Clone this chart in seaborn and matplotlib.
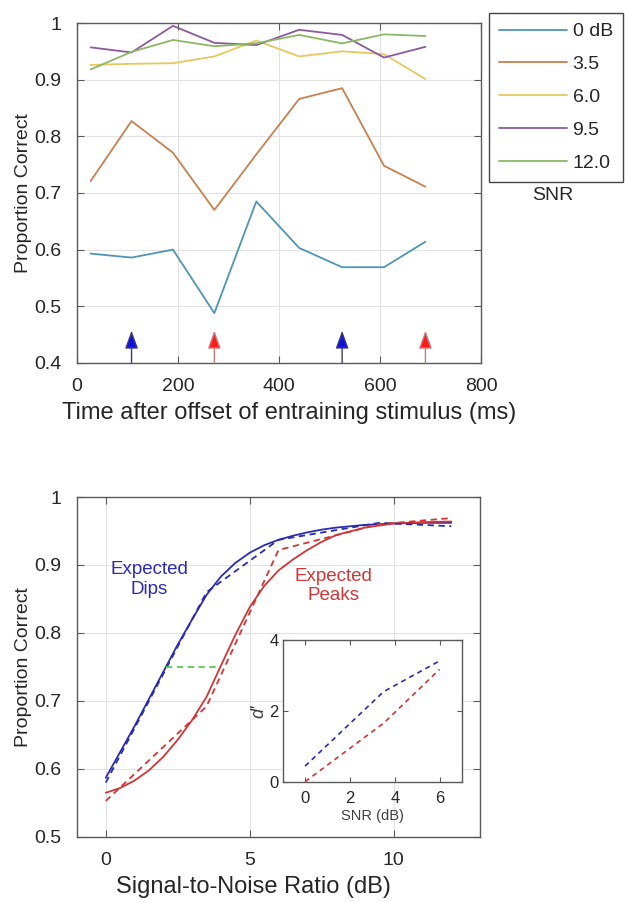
import pandas as pd
import matplotlib.pyplot as plt
import seaborn as sns

# --- data ---
times = [27, 108, 190, 272, 355, 440, 525, 608, 690]
pc_0 = [0.593, 0.586, 0.600, 0.488, 0.685, 0.603, 0.569, 0.569, 0.614]
pc_35 = [0.721, 0.827, 0.771, 0.670, 0.768, 0.866, 0.885, 0.748, 0.711]
pc_60 = [0.926, 0.928, 0.929, 0.941, 0.969, 0.941, 0.950, 0.945, 0.901]
pc_95 = [0.957, 0.948, 0.995, 0.965, 0.961, 0.988, 0.979, 0.939, 0.958]
pc_120 = [0.918, 0.949, 0.970, 0.959, 0.964, 0.979, 0.964, 0.980, 0.977]
snr_labels = ['0 dB', '3.5', '6.0', '9.5', '12.0']
snr_colors = ['#4d96b6', '#c8804f', '#e6c85e', '#8e5a9e', '#8cb864']

arrow_times = [108, 272, 525, 690]
arrow_heads = ['#1010e0', '#ff1a1a', '#1010e0', '#ff1a1a']
arrow_shafts = ['#3a3a78', '#c87878', '#3a3a78', '#c87878']

# psychometric fits (read at sample points)
fit_x = [0, 0.5, 1, 1.5, 2, 2.5, 3, 3.5, 4, 4.5, 5, 5.5, 6, 6.5, 7, 7.5, 8, 9, 10, 11, 12]
fit_dips = [0.587, 0.625, 0.663, 0.703, 0.743, 0.783, 0.820, 0.856, 0.883, 0.903, 0.918,
            0.929, 0.937, 0.943, 0.948, 0.952, 0.955, 0.959, 0.961, 0.962, 0.962]
fit_peaks = [0.565, 0.572, 0.583, 0.598, 0.618, 0.643, 0.672, 0.706, 0.752, 0.797, 0.838,
             0.869, 0.892, 0.908, 0.922, 0.934, 0.944, 0.955, 0.961, 0.963, 0.964]

# measured points
snr_points = [0, 3.5, 6, 9.5, 12]
data_dips = [0.580, 0.860, 0.937, 0.962, 0.957]
data_peaks = [0.553, 0.692, 0.922, 0.960, 0.969]

# threshold line at 0.75
thresh_x = [2.1, 3.9]
thresh_y = [0.75, 0.75]

# inset d'
inset_snr = [0, 3.5, 6]
dprime_dips = [0.44, 2.54, 3.41]
dprime_peaks = [0.0, 1.65, 3.17]

sns.set_theme(style='whitegrid')
plt.rcParams['font.family'] = ['Liberation Sans', 'DejaVu Sans']
plt.rcParams['axes.edgecolor'] = '#5a5a5a'
plt.rcParams['grid.color'] = '#e2e2e2'
plt.rcParams['grid.linewidth'] = 0.8

TXT = '#262626'
fig = plt.figure(figsize=(6.25, 9.02), dpi=100)


def style_axes(ax, size=14, xpad=11, ypad=11.5, tlen=5):
    for s in ax.spines.values():
        s.set_visible(True)
        s.set_color('#5a5a5a')
        s.set_linewidth(1.0)
    ax.tick_params(direction='in', length=tlen, width=0.8, color='#5a5a5a',
                   bottom=True, left=True, top=True, right=True,
                   labelsize=size, labelcolor=TXT)
    ax.tick_params(axis='x', pad=xpad)
    ax.tick_params(axis='y', pad=ypad)


# --- Top panel ---
ax1 = fig.add_axes([0.1232, 0.5976, 0.6464, 0.3769])
rows = []
for lab, vals in zip(snr_labels, [pc_0, pc_35, pc_60, pc_95, pc_120]):
    for t, v in zip(times, vals):
        rows.append({'time': t, 'pc': v, 'snr': lab})
df = pd.DataFrame(rows)
sns.lineplot(data=df, x='time', y='pc', hue='snr', hue_order=snr_labels,
             palette=dict(zip(snr_labels, snr_colors)), lw=1.3, ax=ax1, legend=False)

for t, hc, sc in zip(arrow_times, arrow_heads, arrow_shafts):
    ax1.annotate('', xy=(t, 0.457), xytext=(t, 0.4),
                 arrowprops=dict(arrowstyle='-|>,head_length=0.55,head_width=0.2',
                                 fc=hc, ec=sc, lw=1.0, shrinkA=0, shrinkB=0,
                                 mutation_scale=20))

ax1.set_xlim(0, 800)
ax1.set_ylim(0.4, 1.0)
ax1.set_xticks([0, 200, 400, 600, 800])
ax1.set_yticks([0.4, 0.5, 0.6, 0.7, 0.8, 0.9, 1.0])
ax1.set_yticklabels(['0.4', '0.5', '0.6', '0.7', '0.8', '0.9', '1'])
style_axes(ax1)
ax1.set_xlabel('Time after offset of entraining stimulus (ms)', fontsize=17, color=TXT, labelpad=5)
ax1.xaxis.label.set_x(0.525)
ax1.set_ylabel('Proportion Correct', fontsize=14, color=TXT, labelpad=1.5)

leg = ax1.legend(ax1.get_lines()[:5], snr_labels, loc='upper left',
                 bbox_to_anchor=(0.7824, 0.9856), bbox_transform=fig.transFigure,
                 fontsize=14, frameon=True, fancybox=False, framealpha=1,
                 edgecolor='#444444', borderpad=0.5, labelspacing=0.79,
                 handlelength=3.5, handletextpad=0.3, borderaxespad=0)
leg.get_frame().set_linewidth(1.0)
for txt in leg.get_texts():
    txt.set_color(TXT)
fig.text(0.885, 0.7838, 'SNR', ha='center', va='center', fontsize=14, color=TXT)

# --- Bottom panel ---
BLUE = '#2b2bae'
RED = '#d03636'
ax2 = fig.add_axes([0.1232, 0.0721, 0.6448, 0.3769])
sns.lineplot(x=fit_x, y=fit_dips, color=BLUE, lw=1.3, ax=ax2)
sns.lineplot(x=fit_x, y=fit_peaks, color=RED, lw=1.3, ax=ax2)
sns.lineplot(x=snr_points, y=data_dips, color=BLUE, lw=1.3, ls=(0, (3.5, 2.5)), ax=ax2)
sns.lineplot(x=snr_points, y=data_peaks, color=RED, lw=1.3, ls=(0, (3.5, 2.5)), ax=ax2)
sns.lineplot(x=thresh_x, y=thresh_y, color='#55cc55', lw=1.3, ls=(0, (3.5, 2.5)), ax=ax2)

ax2.text(1.5, 0.879, 'Expected\nDips', color=BLUE, fontsize=13.5, ha='center', va='center',
         linespacing=1.2)
ax2.text(7.9, 0.869, 'Expected\nPeaks', color=RED, fontsize=13.5, ha='center', va='center',
         linespacing=1.2)

ax2.set_xlim(-1, 13)
ax2.set_ylim(0.5, 1.0)
ax2.set_xticks([0, 5, 10])
ax2.set_yticks([0.5, 0.6, 0.7, 0.8, 0.9, 1.0])
ax2.set_yticklabels(['0.5', '0.6', '0.7', '0.8', '0.9', '1'])
style_axes(ax2)
ax2.set_xlabel('Signal-to-Noise Ratio (dB)', fontsize=17, color=TXT, labelpad=5)
ax2.xaxis.label.set_x(0.437)
ax2.set_ylabel('Proportion Correct', fontsize=14, color=TXT, labelpad=1.5)

# --- Inset ---
ax3 = fig.add_axes([0.4523, 0.1334, 0.2869, 0.1571])
ax3.set_facecolor('white')
sns.lineplot(x=inset_snr, y=dprime_dips, color=BLUE, lw=1.2, ls=(0, (3, 2.5)), ax=ax3)
sns.lineplot(x=inset_snr, y=dprime_peaks, color=RED, lw=1.2, ls=(0, (3, 2.5)), ax=ax3)
ax3.grid(False)
ax3.set_xlim(-1, 7)
ax3.set_ylim(0, 4)
ax3.set_xticks([0, 2, 4, 6])
ax3.set_yticks([0, 2, 4])
style_axes(ax3, size=12, xpad=7, ypad=3, tlen=3.5)
ax3.set_xlabel('SNR (dB)', fontsize=10.5, color='#404040', labelpad=2)
ax3.set_ylabel("d'", fontsize=13, color='#404040', style='italic', labelpad=1)

fig.savefig('out.png', dpi=100)
